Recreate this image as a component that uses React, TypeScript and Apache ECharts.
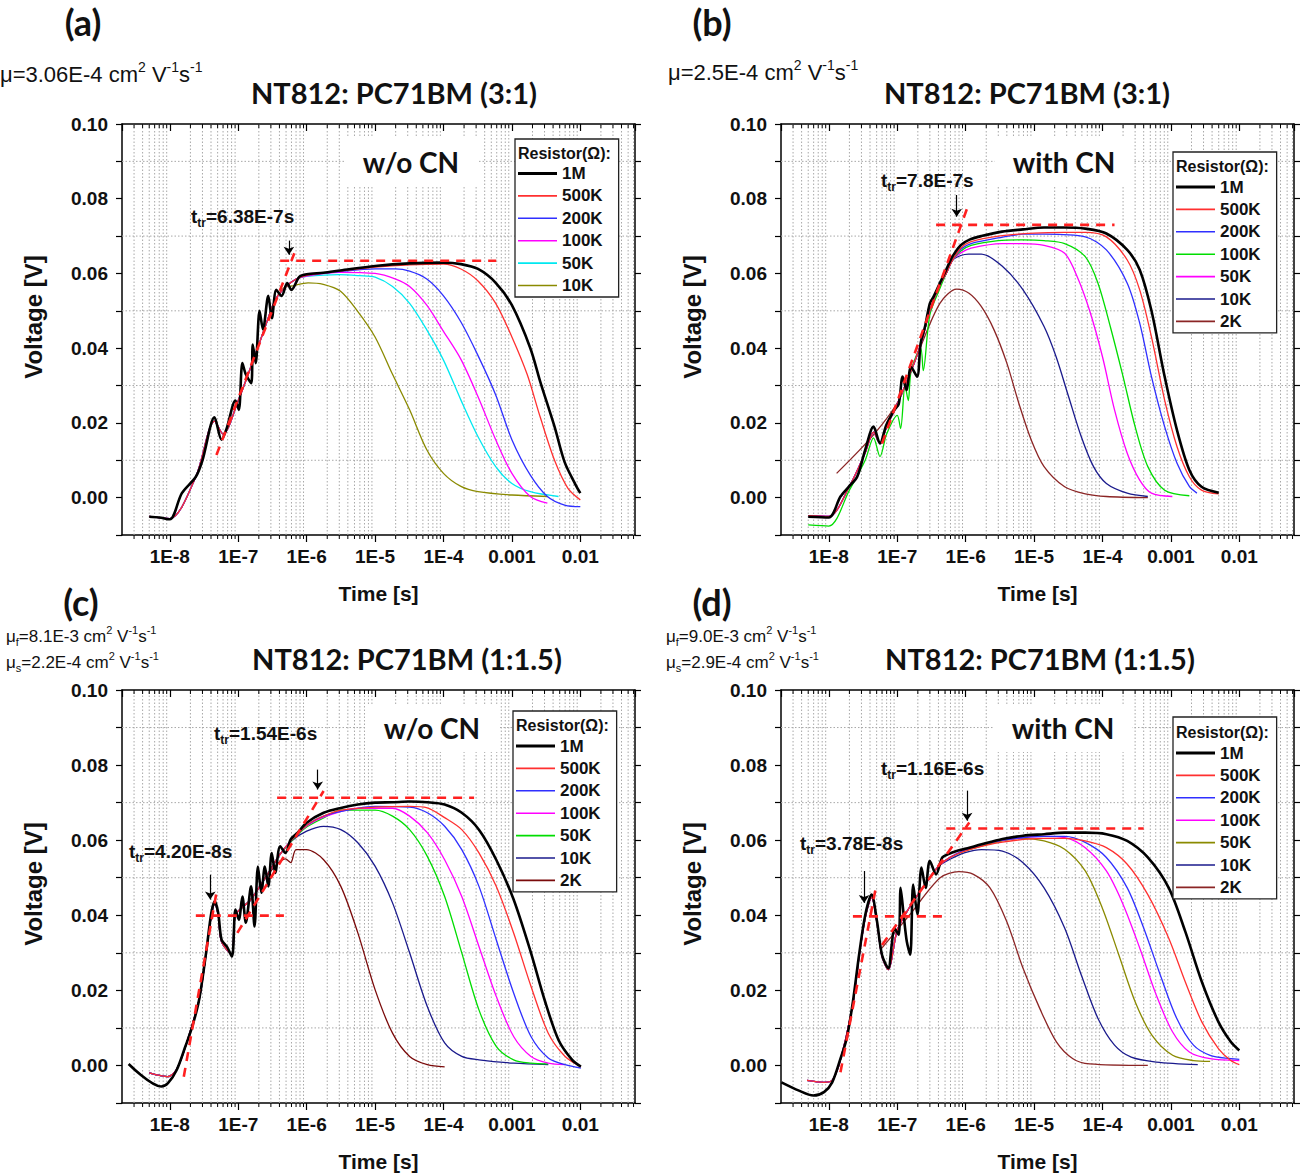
import React, { useEffect, useRef } from "react";
import * as echarts from "echarts";

type Pt = [number, number];

// ---------- axes ----------
const X_MIN = 2e-9;
const X_MAX = 0.063;
const Y_MIN = -0.01;
const Y_MAX = 0.1;
const X_TICK_LABELS = ["1E-8", "1E-7", "1E-6", "1E-5", "1E-4", "0.001", "0.01"];
const Y_TICK_LABELS = ["0.00", "0.02", "0.04", "0.06", "0.08", "0.10"];
const MINOR_MULTIPLES = [2, 3, 4, 5, 6, 7, 8, 9];
const DECADES = [-9, -8, -7, -6, -5, -4, -3, -2];
const ODD_Y = [0.01, 0.03, 0.05, 0.07, 0.09];

const LEGEND_A = ["1M", "500K", "200K", "100K", "50K", "10K"];
const LEGEND_BCD = ["1M", "500K", "200K", "100K", "50K", "10K", "2K"];

// ---------- panel (a) NT812:PC71BM (3:1) w/o CN ----------
const A_1M: Pt[] = [[5e-9,-0.0051],[7e-9,-0.0053],[1e-8,-0.0058],[1.5e-8,0.0012],[2.4e-8,0.0056],[3e-8,0.0100],[4.5e-8,0.0215],[5.7e-8,0.0155],[6.8e-8,0.0186],[9.1e-8,0.0260],[1.02e-7,0.0235],[1.15e-7,0.0360],[1.29e-7,0.0330],[1.55e-7,0.0306],[1.63e-7,0.0410],[1.8e-7,0.0360],[2.05e-7,0.0500],[2.3e-7,0.0450],[2.75e-7,0.0540],[3.1e-7,0.0480],[3.6e-7,0.0556],[4.3e-7,0.0540],[5.2e-7,0.0574],[6e-7,0.0556],[7.8e-7,0.0591],[1e-6,0.0598],[1.75e-6,0.0602],[3.1e-6,0.0608],[1e-5,0.0620],[3.2e-5,0.0627],[1e-4,0.0629],[1.8e-4,0.0625],[3.2e-4,0.0612],[5.8e-4,0.0575],[1e-3,0.0515],[1.86e-3,0.0400],[2.6e-3,0.0310],[4.2e-3,0.0190],[5.9e-3,0.0095],[8.5e-3,0.0035],[1e-2,0.0012]];
const A_rise: Pt[] = [[5e-9,-0.0050],[1e-8,-0.0056],[2.4e-8,0.0056],[4.5e-8,0.0205],[6e-8,0.0170],[1e-7,0.0260],[1.6e-7,0.0360],[2.4e-7,0.0450],[3.5e-7,0.0530],[5e-7,0.0565]];
const A_500K: Pt[] = [[7e-7,0.0585],[1e-6,0.0595],[3e-6,0.0606],[1e-5,0.0617],[3.2e-5,0.0623],[1e-4,0.0625],[1.8e-4,0.0612],[3.2e-4,0.0580],[5.8e-4,0.0520],[1e-3,0.0430],[1.67e-3,0.0330],[2.6e-3,0.0215],[4.2e-3,0.0100],[6.6e-3,0.0025],[1e-2,-0.0006]];
const A_200K: Pt[] = [[7e-7,0.0585],[1e-6,0.0595],[3e-6,0.0605],[1e-5,0.0612],[2e-5,0.0612],[3.2e-5,0.0606],[5.7e-5,0.0585],[1e-4,0.0540],[1.8e-4,0.0470],[3.2e-4,0.0380],[5.8e-4,0.0275],[1e-3,0.0155],[1.86e-3,0.0060],[3.3e-3,0.0003],[5.9e-3,-0.0020],[1e-2,-0.0024]];
const A_100K: Pt[] = [[7e-7,0.0585],[1e-6,0.0593],[3e-6,0.0603],[1e-5,0.0600],[2e-5,0.0585],[3.2e-5,0.0565],[5.7e-5,0.0515],[1e-4,0.0445],[1.8e-4,0.0370],[3.2e-4,0.0270],[5.8e-4,0.0155],[1e-3,0.0065],[1.86e-3,0.0003],[3.3e-3,-0.0015]];
const A_50K: Pt[] = [[7e-7,0.0585],[1e-6,0.0592],[3e-6,0.0597],[6e-6,0.0594],[1e-5,0.0590],[1.8e-5,0.0565],[3.2e-5,0.0520],[5.7e-5,0.0449],[1e-4,0.0368],[1.8e-4,0.0261],[3.2e-4,0.0163],[5.8e-4,0.0083],[1e-3,0.0038],[1.86e-3,0.0016],[4.8e-3,0.0003]];
const A_10K: Pt[] = [[6e-7,0.0566],[1.05e-6,0.0575],[1.75e-6,0.0571],[3.1e-6,0.0553],[5.5e-6,0.0500],[1e-5,0.0430],[1.8e-5,0.0330],[3.2e-5,0.0235],[5.7e-5,0.0128],[1e-4,0.0065],[1.8e-4,0.0030],[3.2e-4,0.0016],[1e-3,0.0007],[3.3e-3,0.0003]];
const A_fit1: Pt[] = [[4.8e-8,0.0114],[6.6e-7,0.0654]];
const A_fit2: Pt[] = [[4.1e-7,0.0634],[5.9e-4,0.0634]];
const A_arrows: number[][] = [[5.5e-7,0.0688,0.0650]];

// ---------- panel (b) NT812:PC71BM (3:1) with CN ----------
const B_1M: Pt[] = [[5e-9,-0.0051],[1e-8,-0.0053],[1.48e-8,0.0003],[1.95e-8,0.0029],[2.6e-8,0.0056],[3.4e-8,0.0128],[4.5e-8,0.0190],[5.6e-8,0.0145],[6.9e-8,0.0194],[9.1e-8,0.0235],[1.05e-7,0.0250],[1.2e-7,0.0324],[1.37e-7,0.0288],[1.59e-7,0.0350],[1.95e-7,0.0324],[2.2e-7,0.0413],[2.55e-7,0.0458],[3e-7,0.0520],[3.4e-7,0.0538],[4.2e-7,0.0574],[5.2e-7,0.0610],[6.4e-7,0.0645],[8.5e-7,0.0676],[1.12e-6,0.0690],[1.7e-6,0.0700],[3.4e-6,0.0712],[6.9e-6,0.0718],[1.4e-5,0.0723],[2.8e-5,0.0723],[5.6e-5,0.0720],[1.14e-4,0.0707],[2.3e-4,0.0663],[3.5e-4,0.0610],[5.2e-4,0.0500],[8.1e-4,0.0324],[1.23e-3,0.0180],[1.86e-3,0.0074],[2.8e-3,0.0029],[5e-3,0.0013]];
const B_rise: Pt[] = [[5e-9,-0.0048],[1e-8,-0.0050],[2e-8,0.0030],[3.4e-8,0.0120],[4.5e-8,0.0175],[5.6e-8,0.0145],[7e-8,0.0190],[1e-7,0.0250],[1.6e-7,0.0340],[2.2e-7,0.0410],[3e-7,0.0500],[4.2e-7,0.0570],[5.2e-7,0.0600],[6.4e-7,0.0635]];
const B_100K_rise: Pt[] = [[5e-9,-0.0073],[1e-8,-0.0076],[2e-8,0.0020],[3.4e-8,0.0100],[4.5e-8,0.0160],[5.6e-8,0.0110],[7e-8,0.0170],[1e-7,0.0220],[1.12e-7,0.0185],[1.3e-7,0.0300],[1.45e-7,0.0260],[1.6e-7,0.0340],[2.2e-7,0.0400],[2.4e-7,0.0340],[3e-7,0.0490],[4.2e-7,0.0560],[5.2e-7,0.0600],[6.4e-7,0.0635]];
const B_500K: Pt[] = [[8.5e-7,0.0668],[1.2e-6,0.0685],[3e-6,0.0700],[1e-5,0.0708],[2.8e-5,0.0710],[5.6e-5,0.0710],[1.14e-4,0.0698],[2.3e-4,0.0636],[3.5e-4,0.0556],[5.2e-4,0.0430],[8.1e-4,0.0261],[1.23e-3,0.0136],[1.86e-3,0.0056],[2.8e-3,0.0020],[5e-3,0.0010]];
const B_200K: Pt[] = [[8.5e-7,0.0665],[1.2e-6,0.0680],[3e-6,0.0695],[6.9e-6,0.0705],[1.4e-5,0.0705],[5.6e-5,0.0698],[1.14e-4,0.0663],[2.3e-4,0.0574],[3.5e-4,0.0467],[5.2e-4,0.0324],[8.1e-4,0.0190],[1.23e-3,0.0092],[1.86e-3,0.0030],[2.4e-3,0.0012]];
const B_100K: Pt[] = [[8.5e-7,0.0660],[1.2e-6,0.0675],[3e-6,0.0688],[6.9e-6,0.0690],[1.4e-5,0.0688],[2.8e-5,0.0680],[5.6e-5,0.0645],[8.6e-5,0.0574],[1.3e-4,0.0458],[2e-4,0.0324],[3e-4,0.0190],[4.6e-4,0.0083],[8.1e-4,0.0020],[1.86e-3,0.0005]];
const B_50K: Pt[] = [[8.5e-7,0.0655],[1.2e-6,0.0668],[3.4e-6,0.0680],[6.9e-6,0.0680],[1.4e-5,0.0675],[2.8e-5,0.0654],[4.3e-5,0.0590],[6.5e-5,0.0500],[1e-4,0.0377],[1.5e-4,0.0235],[2.3e-4,0.0119],[3.5e-4,0.0047],[5.2e-4,0.0012],[1.05e-3,0.0003]];
const B_10K: Pt[] = [[8.5e-7,0.0648],[1.1e-6,0.0652],[1.7e-6,0.0652],[3.5e-6,0.0618],[6.9e-6,0.0556],[1.4e-5,0.0458],[2.1e-5,0.0377],[3.2e-5,0.0270],[4.9e-5,0.0163],[7.4e-5,0.0083],[1.14e-4,0.0038],[2.3e-4,0.0012],[4.6e-4,0.0003]];
const B_2K: Pt[] = [[1.3e-8,0.0065],[4.5e-8,0.0168],[1.05e-7,0.0260],[2.1e-7,0.0395],[4.2e-7,0.0520],[7.4e-7,0.0558],[1.12e-6,0.0547],[1.7e-6,0.0511],[2.6e-6,0.0449],[4e-6,0.0360],[6e-6,0.0252],[9.1e-6,0.0154],[1.4e-5,0.0083],[2.8e-5,0.0029],[5.6e-5,0.0010],[1.14e-4,0.0003],[4.6e-4,0.0000]];
const B_fit1: Pt[] = [[6e-8,0.0145],[1.05e-6,0.0774]];
const B_fit2: Pt[] = [[3.7e-7,0.0730],[1.5e-4,0.0730]];
const B_arrows: number[][] = [[7.4e-7,0.0810,0.0752]];

// ---------- panel (c) NT812:PC71BM (1:1.5) w/o CN ----------
const C_1M: Pt[] = [[2.5e-9,0.0004],[7.5e-9,-0.0056],[9.4e-9,-0.0047],[1.26e-8,-0.0012],[1.69e-8,0.0051],[2.13e-8,0.0104],[2.68e-8,0.0175],[3.39e-8,0.0300],[4.04e-8,0.0406],[4.54e-8,0.0437],[5.1e-8,0.0406],[5.7e-8,0.0335],[6.8e-8,0.0317],[8.1e-8,0.0290],[9.1e-8,0.0415],[1.02e-7,0.0388],[1.15e-7,0.0450],[1.29e-7,0.0380],[1.54e-7,0.0477],[1.73e-7,0.0370],[1.94e-7,0.0530],[2.18e-7,0.0460],[2.45e-7,0.0530],[2.75e-7,0.0477],[3.09e-7,0.0566],[3.47e-7,0.0513],[4.1e-7,0.0584],[4.9e-7,0.0566],[5.85e-7,0.0602],[7.4e-7,0.0620],[9.9e-7,0.0646],[1.77e-6,0.0673],[3.16e-6,0.0686],[5.6e-6,0.0695],[1e-5,0.0700],[1.8e-5,0.0701],[3.2e-5,0.0703],[5.8e-5,0.0701],[1.04e-4,0.0695],[1.85e-4,0.0673],[3.3e-4,0.0628],[5.9e-4,0.0548],[1.06e-3,0.0442],[1.9e-3,0.0300],[3e-3,0.0175],[4.8e-3,0.0068],[7.6e-3,0.0015],[1.02e-2,-0.0003]];
const C_rise: Pt[] = [[5e-9,-0.0020],[9.4e-9,-0.0030],[1.26e-8,-0.0010],[1.69e-8,0.0050],[2.68e-8,0.0175],[3.4e-8,0.0300],[4.05e-8,0.0400],[4.55e-8,0.0430],[5.1e-8,0.0400],[5.7e-8,0.0330],[8.1e-8,0.0295],[9.1e-8,0.0400],[1.5e-7,0.0440],[2.5e-7,0.0500],[4e-7,0.0560]];
const C_500K: Pt[] = [[6e-7,0.0600],[1e-6,0.0640],[1.8e-6,0.0665],[3.2e-6,0.0680],[1e-5,0.0688],[3.2e-5,0.0690],[5.8e-5,0.0686],[1.04e-4,0.0660],[1.85e-4,0.0628],[3.3e-4,0.0566],[5.9e-4,0.0477],[1.06e-3,0.0353],[1.9e-3,0.0211],[3.4e-3,0.0086],[6e-3,0.0024],[1.02e-2,-0.0003]];
const C_200K: Pt[] = [[6e-7,0.0600],[1e-6,0.0640],[1.8e-6,0.0665],[5.6e-6,0.0685],[1e-5,0.0690],[3.2e-5,0.0688],[5.8e-5,0.0673],[1.04e-4,0.0637],[1.85e-4,0.0575],[3.3e-4,0.0477],[5.9e-4,0.0335],[1.06e-3,0.0193],[1.9e-3,0.0077],[3.4e-3,0.0020],[6e-3,0.0002],[1.02e-2,-0.0007]];
const C_100K: Pt[] = [[6e-7,0.0600],[1e-6,0.0638],[1.8e-6,0.0662],[5.6e-6,0.0685],[1.8e-5,0.0685],[3.2e-5,0.0664],[5.8e-5,0.0620],[1.04e-4,0.0548],[1.85e-4,0.0450],[3.3e-4,0.0317],[5.9e-4,0.0184],[1.06e-3,0.0077],[1.9e-3,0.0024],[3.4e-3,0.0006],[6e-3,0.0002]];
const C_50K: Pt[] = [[6e-7,0.0598],[1e-6,0.0635],[1.8e-6,0.0660],[3.2e-6,0.0680],[1e-5,0.0680],[1.8e-5,0.0664],[3.2e-5,0.0628],[5.8e-5,0.0557],[1.04e-4,0.0450],[1.85e-4,0.0300],[3.3e-4,0.0148],[5.9e-4,0.0051],[1.06e-3,0.0015],[1.9e-3,0.0006],[3.4e-3,0.0004]];
const C_10K: Pt[] = [[6e-7,0.0598],[1e-6,0.0624],[1.77e-6,0.0637],[3.16e-6,0.0628],[5.6e-6,0.0593],[1e-5,0.0531],[1.8e-5,0.0433],[3.2e-5,0.0300],[5.8e-5,0.0157],[1.04e-4,0.0060],[1.85e-4,0.0024],[3.3e-4,0.0015],[1.06e-3,0.0006],[3.4e-3,0.0002]];
const C_2K: Pt[] = [[4.9e-7,0.0550],[5.85e-7,0.0540],[7e-7,0.0575],[9.9e-7,0.0575],[1.77e-6,0.0548],[3.16e-6,0.0477],[5.6e-6,0.0353],[1e-5,0.0202],[1.8e-5,0.0086],[3.2e-5,0.0024],[5.8e-5,0.0002],[1.04e-4,-0.0004]];
const C_fit1: Pt[] = [[1.6e-8,-0.0030],[4.8e-8,0.0460]];
const C_fit2: Pt[] = [[2.4e-8,0.0399],[4.65e-7,0.0399]];
const C_fit3: Pt[] = [[9.7e-8,0.0353],[1.77e-6,0.0731]];
const C_fit4: Pt[] = [[3.7e-7,0.0713],[2.8e-4,0.0713]];
const C_arrows: number[][] = [[3.9e-8,0.0508,0.0442],[1.45e-6,0.0788,0.0735]];

// ---------- panel (d) NT812:PC71BM (1:1.5) with CN ----------
const D_1M: Pt[] = [[2.03e-9,-0.0045],[3.66e-9,-0.0067],[5.96e-9,-0.0080],[8.5e-9,-0.0071],[1.12e-8,-0.0045],[1.48e-8,0.0018],[1.82e-8,0.0071],[2.25e-8,0.0170],[2.77e-8,0.0295],[3.42e-8,0.0402],[4.22e-8,0.0455],[5.06e-8,0.0384],[5.98e-8,0.0295],[7.4e-8,0.0259],[8.3e-8,0.0321],[9.1e-8,0.0366],[1.05e-7,0.0348],[1.12e-7,0.0473],[1.24e-7,0.0402],[1.38e-7,0.0330],[1.55e-7,0.0295],[1.71e-7,0.0482],[1.97e-7,0.0402],[2.26e-7,0.0527],[2.6e-7,0.0473],[2.99e-7,0.0545],[3.7e-7,0.0509],[4.55e-7,0.0554],[5.6e-7,0.0563],[7.4e-7,0.0571],[1.13e-6,0.0580],[1.71e-6,0.0589],[3.45e-6,0.0603],[6.9e-6,0.0612],[1.4e-5,0.0616],[2.8e-5,0.0620],[5.6e-5,0.0620],[1.14e-4,0.0616],[2.3e-4,0.0598],[4.6e-4,0.0554],[9.3e-4,0.0473],[1.62e-3,0.0357],[2.83e-3,0.0223],[4.95e-3,0.0116],[7.5e-3,0.0063],[1e-2,0.0040]];
const D_rise: Pt[] = [[4.8e-9,-0.0040],[8.5e-9,-0.0045],[1.12e-8,-0.0040],[1.48e-8,0.0015],[2.25e-8,0.0165],[2.77e-8,0.0290],[3.42e-8,0.0395],[4.22e-8,0.0448],[5.06e-8,0.0380],[6e-8,0.0290],[7.4e-8,0.0255],[1e-7,0.0360],[1.5e-7,0.0420],[2.5e-7,0.0480],[4e-7,0.0530]];
const D_500K: Pt[] = [[6e-7,0.0555],[1.13e-6,0.0575],[3.45e-6,0.0595],[1.4e-5,0.0605],[2.8e-5,0.0605],[5.6e-5,0.0598],[1.14e-4,0.0580],[2.3e-4,0.0536],[4.6e-4,0.0455],[9.3e-4,0.0339],[1.62e-3,0.0223],[2.83e-3,0.0116],[4.95e-3,0.0045],[7.5e-3,0.0013],[1e-2,0.0002]];
const D_200K: Pt[] = [[6e-7,0.0555],[1.13e-6,0.0578],[3.45e-6,0.0600],[1.4e-5,0.0610],[2.8e-5,0.0610],[5.6e-5,0.0594],[1.14e-4,0.0554],[2.3e-4,0.0473],[4e-4,0.0366],[7e-4,0.0241],[1.22e-3,0.0125],[2.14e-3,0.0054],[3.75e-3,0.0027],[7.5e-3,0.0018],[1e-2,0.0016]];
const D_100K: Pt[] = [[6e-7,0.0555],[1.13e-6,0.0578],[3.45e-6,0.0600],[1.4e-5,0.0610],[2.8e-5,0.0607],[5.6e-5,0.0580],[1.14e-4,0.0518],[2e-4,0.0429],[3.5e-4,0.0313],[6.1e-4,0.0188],[1.06e-3,0.0089],[1.86e-3,0.0036],[3.75e-3,0.0018],[1e-2,0.0013]];
const D_50K: Pt[] = [[6e-7,0.0555],[1.13e-6,0.0575],[3.45e-6,0.0598],[6.9e-6,0.0605],[1.4e-5,0.0598],[2.8e-5,0.0576],[5.6e-5,0.0518],[9.9e-5,0.0420],[1.73e-4,0.0295],[3e-4,0.0170],[5.3e-4,0.0080],[1.06e-3,0.0027],[2.14e-3,0.0013],[3.75e-3,0.0011]];
const D_10K: Pt[] = [[6e-7,0.0550],[9.8e-7,0.0567],[1.71e-6,0.0575],[3.45e-6,0.0571],[6.9e-6,0.0540],[1.4e-5,0.0473],[2.8e-5,0.0366],[4.9e-5,0.0241],[8.6e-5,0.0125],[1.5e-4,0.0054],[2.63e-4,0.0022],[6.1e-4,0.0009],[2.47e-3,0.0002]];
const D_2K: Pt[] = [[6e-8,0.0313],[1.5e-7,0.0400],[4.24e-7,0.0500],[7.95e-7,0.0516],[1.3e-6,0.0509],[2.27e-6,0.0473],[3.97e-6,0.0384],[6.9e-6,0.0259],[1.21e-5,0.0152],[2.12e-5,0.0063],[3.7e-5,0.0018],[6.5e-5,0.0004],[4.6e-4,0.0000]];
const D_fit1: Pt[] = [[1.48e-8,-0.0018],[4.86e-8,0.0473]];
const D_fit2: Pt[] = [[2.25e-8,0.0397],[4.88e-7,0.0397]];
const D_fit3: Pt[] = [[6e-8,0.0321],[1.13e-6,0.0647]];
const D_fit4: Pt[] = [[5.2e-7,0.0631],[4e-4,0.0631]];
const D_arrows: number[][] = [[3.28e-8,0.0518,0.0433],[1.05e-6,0.0732,0.0652]];

// ---------- styling ----------
const FONT = '"Liberation Sans", Arial, Helvetica, sans-serif';
const TFONT = 'Lato, "Open Sans", sans-serif';
const TXT = "#111";
const RED = "#ff2020";
const ICON_THICK = "path://M0,0H40V3H0Z";
const ICON_THIN = "path://M0,0H40V1.6H0Z";

const COL = {
  black: "#000000", red: "#ff3030", blue: "#2f2fff", magenta: "#ff00ff",
  cyan: "#00e8f0", olive: "#8a8a00", green: "#00dd00", navy: "#1a1a8c", brown: "#8b2525",
};

const PANELS = [
  {
    key: "a", grid: { left: 122, top: 124, width: 513, height: 411 }, legendPos: { left: 515, top: 139, padTop: 26 },
    labels: LEGEND_A,
    curves: [A_1M, A_rise.concat(A_500K), A_rise.concat(A_200K), A_rise.concat(A_100K), A_rise.concat(A_50K), A_rise.concat(A_10K)],
    colors: [COL.black, COL.red, COL.blue, COL.magenta, COL.cyan, COL.olive],
    fits: [A_fit1, A_fit2], arrows: A_arrows,
  },
  {
    key: "b", grid: { left: 781, top: 124, width: 513, height: 411 }, legendPos: { left: 1173, top: 152, padTop: 26.5 },
    labels: LEGEND_BCD,
    curves: [B_1M, B_rise.concat(B_500K), B_rise.concat(B_200K), B_100K_rise.concat(B_100K), B_rise.concat(B_50K), B_rise.concat(B_10K), B_2K],
    colors: [COL.black, COL.red, COL.blue, COL.green, COL.magenta, COL.navy, COL.brown],
    fits: [B_fit1, B_fit2], arrows: B_arrows,
  },
  {
    key: "c", grid: { left: 122, top: 690, width: 513, height: 413 }, legendPos: { left: 513, top: 711, padTop: 26.5 },
    labels: LEGEND_BCD,
    curves: [C_1M, C_rise.concat(C_500K), C_rise.concat(C_200K), C_rise.concat(C_100K), C_rise.concat(C_50K), C_rise.concat(C_10K), C_rise.slice(0, 14).concat(C_2K)],
    colors: [COL.black, COL.red, COL.blue, COL.magenta, COL.green, COL.navy, "#7a0a0a"],
    fits: [C_fit1, C_fit2, C_fit3, C_fit4], arrows: C_arrows,
  },
  {
    key: "d", grid: { left: 781, top: 690, width: 513, height: 413 }, legendPos: { left: 1173, top: 717, padTop: 27.5 },
    labels: LEGEND_BCD,
    curves: [D_1M, D_rise.concat(D_500K), D_rise.concat(D_200K), D_rise.concat(D_100K), D_rise.concat(D_50K), D_rise.concat(D_10K), D_2K],
    colors: [COL.black, COL.red, COL.blue, COL.magenta, COL.olive, COL.navy, COL.brown],
    fits: [D_fit1, D_fit2, D_fit3, D_fit4], arrows: D_arrows,
  },
];

const MINOR_T: number[] = [];
DECADES.forEach((d) => MINOR_MULTIPLES.forEach((m) => {
  const t = m * Math.pow(10, d);
  if (t > X_MIN && t < X_MAX) MINOR_T.push(t);
}));

const xLabel = (v: number) => {
  const lg = Math.log10(v);
  const e = Math.round(lg);
  if (Math.abs(lg - e) > 0.02) return "";
  return X_TICK_LABELS[e + 8] ?? "";
};
const yLabel = (v: number) => {
  const k = Math.round(v * 100);
  return k >= 0 && k % 2 === 0 ? Y_TICK_LABELS[k / 2] ?? "" : "";
};

const axisLine = { show: true, onZero: false, lineStyle: { color: "#000", width: 1.5 } };
const tickStyle = { color: "#000", width: 1.2 };

function buildOption() {
  const xAxis: any[] = [];
  const yAxis: any[] = [];
  const series: any[] = [];
  const legend: any[] = [];
  const grid = PANELS.map((p) => ({ ...p.grid, containLabel: false }));

  PANELS.forEach((p, i) => {
    xAxis.push({
      type: "log", logBase: 10, gridIndex: i, position: "bottom", min: X_MIN, max: X_MAX,
      axisLine, axisTick: { show: true, inside: false, length: 7, lineStyle: tickStyle },
      axisLabel: { formatter: xLabel, fontFamily: FONT, fontWeight: "bold", fontSize: 19, color: TXT, margin: 12, showMinLabel: false, showMaxLabel: false },
      splitLine: { show: false }, minorTick: { show: false },
      name: "Time [s]", nameLocation: "middle", nameGap: 48,
      nameTextStyle: { fontFamily: FONT, fontWeight: "bold", fontSize: 21, color: TXT },
    });
    yAxis.push({
      type: "value", gridIndex: i, position: "left", min: Y_MIN, max: Y_MAX, interval: 0.01,
      axisLine, axisTick: { show: true, inside: false, length: 6, lineStyle: tickStyle },
      axisLabel: { formatter: yLabel, fontFamily: FONT, fontWeight: "bold", fontSize: 19, color: TXT, margin: 14 },
      splitLine: { show: false },
      name: "Voltage [V]", nameLocation: "middle", nameGap: 77,
      nameTextStyle: { fontFamily: FONT, fontWeight: "bold", fontSize: 24, color: TXT, padding: [0, 0, 0, 25] },
    });
  });
  PANELS.forEach((p, i) => {
    xAxis.push({
      type: "log", logBase: 10, gridIndex: i, position: "top", min: X_MIN, max: X_MAX,
      axisLine, axisTick: { show: true, inside: true, length: 7, lineStyle: tickStyle },
      axisLabel: { show: false }, splitLine: { show: false },
    });
    yAxis.push({
      type: "value", gridIndex: i, position: "right", min: Y_MIN, max: Y_MAX, interval: 0.01,
      axisLine, axisTick: { show: true, inside: false, length: 6, lineStyle: tickStyle },
      axisLabel: { show: false }, splitLine: { show: false },
    });
  });

  PANELS.forEach((p, i) => {
    series.push({
      type: "custom", xAxisIndex: i, yAxisIndex: i, silent: true, z: 1, clip: false,
      data: MINOR_T.map((t) => [t, 0]),
      renderItem: (_params: any, api: any) => {
        const t = api.value(0);
        const b = api.coord([t, Y_MIN]);
        const tp = api.coord([t, Y_MAX]);
        return {
          type: "group",
          children: [
            { type: "line", shape: { x1: b[0], y1: b[1], x2: tp[0], y2: tp[1] }, style: { stroke: "#a8a8a8", lineWidth: 1, lineDash: [1.5, 2] } },
            { type: "line", shape: { x1: b[0], y1: b[1], x2: b[0], y2: b[1] + 4 }, style: { stroke: "#000", lineWidth: 1 } },
            { type: "line", shape: { x1: tp[0], y1: tp[1], x2: tp[0], y2: tp[1] + 4 }, style: { stroke: "#000", lineWidth: 1 } },
          ],
        };
      },
    });
    series.push({
      type: "custom", xAxisIndex: i, yAxisIndex: i, silent: true, z: 1, clip: false,
      data: ODD_Y.map((y) => [X_MIN, y]),
      renderItem: (_params: any, api: any) => {
        const y = api.value(1);
        const l = api.coord([X_MIN, y]);
        const r = api.coord([X_MAX, y]);
        return { type: "line", shape: { x1: l[0], y1: l[1], x2: r[0], y2: r[1] }, style: { stroke: "#a8a8a8", lineWidth: 1, lineDash: [1.5, 2] } };
      },
    });
    for (let k = p.curves.length - 1; k >= 0; k--) {
      series.push({
        name: `${p.key}:${p.labels[k]}`, type: "line", xAxisIndex: i, yAxisIndex: i,
        data: p.curves[k], symbol: "none", showSymbol: false, silent: true, z: 3,
        smooth: 0.3,
        lineStyle: { color: p.colors[k], width: k === 0 ? 2.6 : 1.3 },
        itemStyle: { color: p.colors[k] },
      });
    }
    p.fits.forEach((f, j) => {
      const s: any = {
        name: `${p.key}:fit${j}`, type: "line", xAxisIndex: i, yAxisIndex: i,
        data: f, symbol: "none", showSymbol: false, silent: true, z: 4,
        lineStyle: { color: RED, width: 2.6, type: [9, 7] },
      };
      if (j === 0) {
        s.markLine = {
          silent: true, symbol: ["none", "arrow"], symbolSize: 8, animation: false,
          lineStyle: { color: "#000", width: 1.2, type: "solid" }, label: { show: false },
          data: p.arrows.map((a) => [{ coord: [a[0], a[1]] }, { coord: [a[0], a[2]] }]),
        };
      }
      series.push(s);
    });
    legend.push({
      show: true, orient: "vertical", left: p.legendPos.left, top: p.legendPos.top,
      padding: [p.legendPos.padTop, 16, 3, 3], itemWidth: 39, itemHeight: 15, itemGap: 5.4,
      symbolKeepAspect: true, selectedMode: false, z: 6,
      backgroundColor: "#fff", borderColor: "#222", borderWidth: 1.3, borderRadius: 0,
      itemStyle: { borderWidth: 0 },
      textStyle: { fontFamily: FONT, fontWeight: "bold", fontSize: 17, color: TXT },
      formatter: (name: string) => name.split(":")[1],
      data: p.labels.map((l, k) => ({ name: `${p.key}:${l}`, icon: k === 0 ? ICON_THICK : ICON_THIN })),
    });
  });

  const rich = (size: number, subSize: number, weight: string) => ({
    b: { fontFamily: FONT, fontSize: size, fontWeight: weight, lineHeight: size + 6, fill: TXT, color: TXT },
    sup: { fontFamily: FONT, fontSize: subSize, fontWeight: weight, lineHeight: subSize, verticalAlign: "top", fill: TXT, color: TXT },
    sub: { fontFamily: FONT, fontSize: subSize, fontWeight: weight, lineHeight: subSize, verticalAlign: "bottom", fill: TXT, color: TXT },
  });
  const text = (x: number, y: number, t: string, style: any) => ({ type: "text", x, y, z: 100, style: { text: t, fill: TXT, ...style } });
  const plain = (size: number, weight: string, family: string, align = "center") => ({
    fontFamily: family, fontSize: size, fontWeight: weight, align, verticalAlign: "middle",
  });
  const richStyle = (size: number, sub: number, weight: string) => ({ align: "left", verticalAlign: "middle", rich: rich(size, sub, weight) });
  const mu = (v: string) => `{b|μ=${v} cm}{sup|2}{b| V}{sup|-1}{b|s}{sup|-1}`;
  const mu2 = (s: string, v: string) => `{b|μ}{sub|${s}}{b|=${v} cm}{sup|2}{b| V}{sup|-1}{b|s}{sup|-1}`;
  const ttr = (v: string) => `{b|t}{sub|tr}{b|=${v}}`;
  const boxed = { backgroundColor: "#fff", padding: [10, 18] };

  const graphic: any[] = [
    text(83, 22, "(a)", plain(36, "bold", TFONT)),
    text(712, 22, "(b)", plain(36, "bold", TFONT)),
    text(81, 602, "(c)", plain(36, "bold", TFONT)),
    text(712, 602, "(d)", plain(36, "bold", TFONT)),
    text(0, 74, mu("3.06E-4"), richStyle(22, 14, "normal")),
    text(668, 72, mu("2.5E-4"), richStyle(22, 14, "normal")),
    text(6, 636, mu2("f", "8.1E-3"), richStyle(17, 11, "normal")),
    text(6, 662, mu2("s", "2.2E-4"), richStyle(17, 11, "normal")),
    text(666, 636, mu2("f", "9.0E-3"), richStyle(17, 11, "normal")),
    text(666, 662, mu2("s", "2.9E-4"), richStyle(17, 11, "normal")),
    text(394, 92, "NT812: PC71BM (3:1)", plain(29, "bold", TFONT)),
    text(1027, 92, "NT812: PC71BM (3:1)", plain(29, "bold", TFONT)),
    text(407, 658, "NT812: PC71BM (1:1.5)", plain(29, "bold", TFONT)),
    text(1040, 658, "NT812: PC71BM (1:1.5)", plain(29, "bold", TFONT)),
    text(411, 162, "w/o CN", { ...plain(28, "bold", TFONT), ...boxed }),
    text(1064, 162, "with CN", { ...plain(28, "bold", TFONT), ...boxed }),
    text(432, 728, "w/o CN", { ...plain(28, "bold", TFONT), ...boxed }),
    text(1063, 728, "with CN", { ...plain(28, "bold", TFONT), ...boxed }),
    text(191, 216, ttr("6.38E-7s"), richStyle(19, 12, "bold")),
    text(881, 180, ttr("7.8E-7s"), richStyle(19, 12, "bold")),
    text(214, 733, ttr("1.54E-6s"), richStyle(19, 12, "bold")),
    text(129, 851, ttr("4.20E-8s"), richStyle(19, 12, "bold")),
    text(881, 768, ttr("1.16E-6s"), richStyle(19, 12, "bold")),
    text(800, 843, ttr("3.78E-8s"), richStyle(19, 12, "bold")),
    text(518, 153, "Resistor(Ω):", plain(16, "bold", FONT, "left")),
    text(1176, 166, "Resistor(Ω):", plain(16, "bold", FONT, "left")),
    text(516, 725, "Resistor(Ω):", plain(16, "bold", FONT, "left")),
    text(1176, 732, "Resistor(Ω):", plain(16, "bold", FONT, "left")),
  ];

  return { animation: false, backgroundColor: "#ffffff", grid, xAxis, yAxis, series, legend, graphic };
}

export default function App() {
  const ref = useRef<HTMLDivElement>(null);
  useEffect(() => {
    if (!ref.current) return;
    const chart = echarts.init(ref.current, undefined, { renderer: "svg" });
    chart.setOption(buildOption() as any);
    return () => chart.dispose();
  }, []);
  return <div ref={ref} style={{ position: "absolute", left: 0, top: 0, width: 1300, height: 1176, background: "#fff" }} />;
}
